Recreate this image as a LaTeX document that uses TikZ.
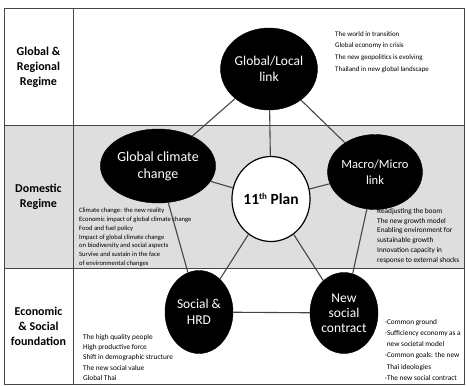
\documentclass[tikz,border=0pt]{standalone}
\usepackage{fontspec}
\setmainfont{Carlito}
\usetikzlibrary{shapes.geometric}
\definecolor{bandgrey}{RGB}{222,222,222}
\definecolor{linegrey}{RGB}{70,70,70}
\tikzset{
  darkball/.style={ellipse, fill=black, draw=black, inner sep=0pt, text=white, align=center,
    font=\fontsize{13.5}{16.5}\selectfont},
  planball/.style={ellipse, fill=white, draw=black, line width=1.2pt, inner sep=0pt, align=center,
    font=\bfseries\fontsize{15.5}{17}\selectfont},
  rowlabel/.style={align=center, inner sep=0pt, font=\bfseries\fontsize{12}{15}\selectfont},
  notes/.style={anchor=north west, align=left, inner sep=0pt},
  link/.style={draw=linegrey, line width=1.1pt},
  frameline/.style={draw=linegrey, line width=1pt},
}
\begin{document}
\begin{tikzpicture}[x=1pt,y=-1pt]
\useasboundingbox (0,0) rectangle (467,386);

%Shape: Band
\fill[bandgrey] (4,125) rectangle (464,268);
%Shape: Frame
\draw[frameline] (4,8) rectangle (464,384);
\draw[frameline] (4,125) -- (464,125);
\draw[frameline] (4,268) -- (464,268);
\draw[frameline] (73,8) -- (73,384);

% Row labels
\node[rowlabel] (global) at (38.5,67) {Global \&\\Regional\\Regime};
\node[rowlabel] (domestic) at (38.5,197) {Domestic\\Regime};
\node[rowlabel] (economic) at (38.5,326) {Economic\\\& Social\\foundation};

%Shape: Ellipses
\node[darkball, minimum width=82pt, minimum height=82pt] (glolocal) at (269,69) {Global/Local\\link};
\node[darkball, minimum width=87pt, minimum height=74pt, font=\fontsize{14}{17}\selectfont] (climate) at (158,166) {Global climate\\change};
\node[darkball, minimum width=70pt, minimum height=75pt, font=\fontsize{12.5}{16}\selectfont] (macro) at (375,172) {Macro/Micro\\link};
\node[darkball, minimum width=68pt, minimum height=83pt] (social) at (199,312) {Social \&\\HRD};
\node[darkball, minimum width=68pt, minimum height=81pt, font=\fontsize{13.5}{15}\selectfont] (contract) at (344,313) {New\\social\\contract};
\node[planball, minimum width=68pt, minimum height=85pt] (plan) at (271,199) {11{\fontsize{9}{9}\selectfont\raisebox{4.5pt}{th}} Plan};

%Straight Lines
\draw[link] (glolocal) -- (climate);
\draw[link] (glolocal) -- (macro);
\draw[link] (climate) -- (social);
\draw[link] (macro) -- (contract);
\draw[link] (social) -- (contract);
\draw[link] (plan) -- (glolocal);
\draw[link] (plan) -- (climate);
\draw[link] (plan) -- (macro);
\draw[link] (plan) -- (social);
\draw[link] (plan) -- (contract);

% Text Node
\node[notes, font=\fontsize{7}{11.7}\selectfont] (worldnote) at (335,31) {The world in transition\\Global economy in crisis\\The new geopolitics is evolving\\Thailand in new global landscape};
% Text Node
\node[notes, font=\fontsize{6.6}{8.8}\selectfont] (climatenote) at (79,208) {Climate change: the new reality\\Economic impact of global climate change\\Food and fuel policy\\Impact of global climate change\\on biodiversity and social aspects\\Survive and sustain in the face\\of environmental changes};
% Text Node
\node[notes, font=\fontsize{7.3}{9.8}\selectfont] (macronote) at (377,208) {Readjusting the boom\\The new growth model\\Enabling environment for\\sustainable growth\\Innovation capacity in\\response to external shocks};
% Text Node
\node[notes, font=\fontsize{7.3}{10.3}\selectfont] (socialnote) at (83,334) {The high quality people\\High productive force\\Shift in demographic structure\\The new social value\\Global Thai};
% Text Node
\node[notes, font=\fontsize{7.3}{11.2}\selectfont] (contractnote) at (385,319) {·Common ground\\·Sufficiency economy as a\\\ new societal model\\·Common goals: the new\\\ Thai ideologies\\·The new social contract};
\end{tikzpicture}
\end{document}
